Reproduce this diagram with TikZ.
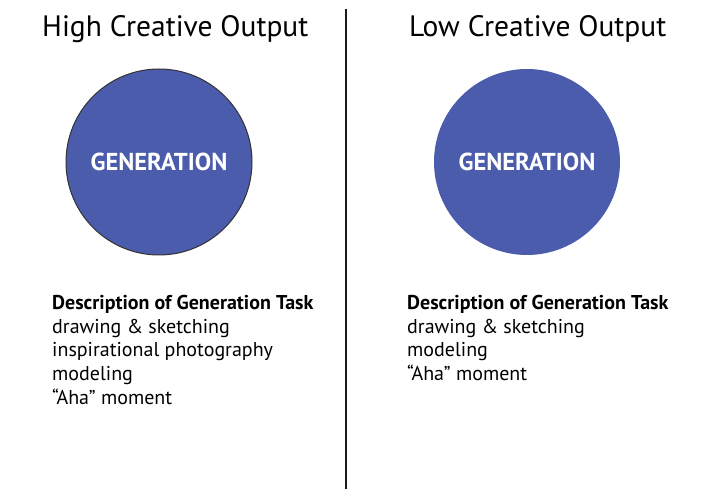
\documentclass[tikz,border=0pt]{standalone}
\usepackage{fontspec}
\setmainfont{PT Sans}
\definecolor{genblue}{RGB}{76,92,172}
\begin{document}
\begin{tikzpicture}[x=1pt,y=-1pt,
  title/.style={anchor=base west,inner sep=0pt,font=\fontsize{29.5}{34}\selectfont},
  gen/.style={circle,fill=genblue,minimum size=186pt,inner sep=0pt},
  gentext/.style={text=white,font=\fontsize{24.5}{28}\selectfont\bfseries,anchor=center,inner sep=0pt},
  desc/.style={anchor=north west,inner sep=0pt,align=left,font=\fontsize{20}{23.7}\selectfont}]
\useasboundingbox (0,0) rectangle (705,489);
\fill[white] (0,0) rectangle (705,489);
\coordinate (ltop) at (346,9);
\coordinate (lbot) at (346,489);
\draw[line width=2.4pt,black!90] (ltop) -- (lbot);
\node[title] (t1) at (42,37) {High Creative Output};
\node[title] (t2) at (409,37) {Low Creative Output};
\node[gen,draw=black!80,line width=1pt] (c1) at (159,162) {};
\node[gen] (c2) at (527,162) {};
\node[gentext] (g1) at (159,162) {GENERATION};
\node[gentext] (g2) at (527,162) {GENERATION};
\node[desc] (d1) at (52,295) {\textbf{Description of Generation Task}\\drawing \& sketching\\inspirational photography\\modeling\\``Aha'' moment};
\node[desc] (d2) at (407,295) {\textbf{Description of Generation Task}\\drawing \& sketching\\modeling\\``Aha'' moment};
\end{tikzpicture}
\end{document}
